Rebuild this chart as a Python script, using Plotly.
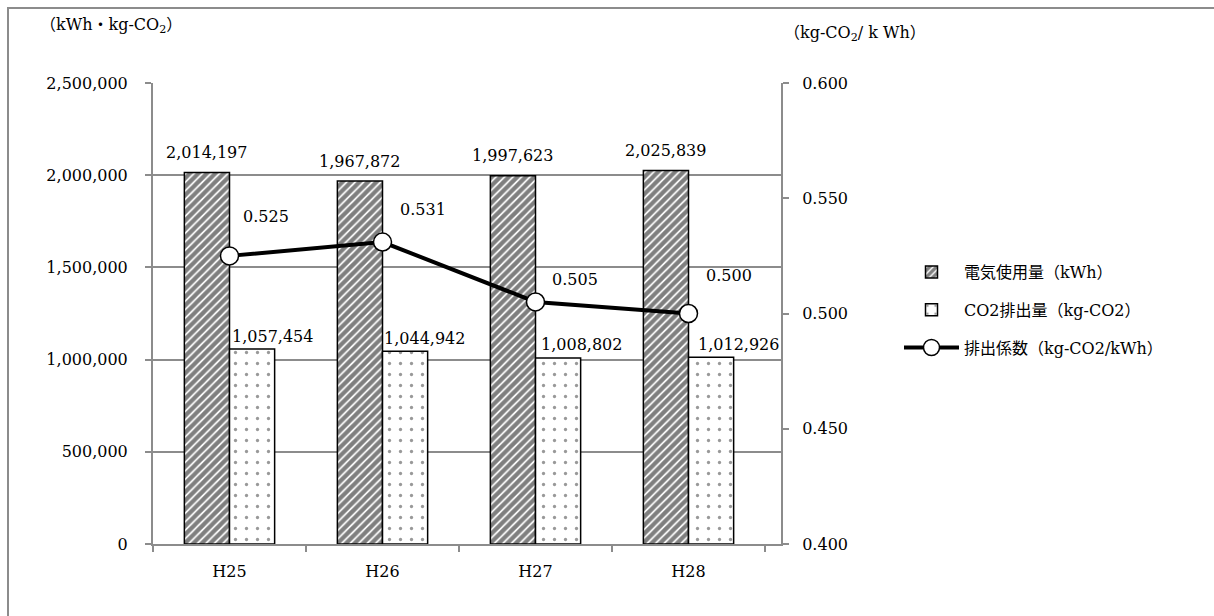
import plotly.graph_objects as go

# Fiscal years and measured values
categories = ["H25", "H26", "H27", "H28"]
electricity_kwh = [2014197, 1967872, 1997623, 2025839]
co2_kg = [1057454, 1044942, 1008802, 1012926]
emission_factor = [0.525, 0.531, 0.505, 0.500]

left_ticks = [0, 500000, 1000000, 1500000, 2000000, 2500000]
right_ticks = [0.400, 0.450, 0.500, 0.550, 0.600]

# Label nudges in pixels (x, y)
co2_label_shift = [(20, 13), (19, 13), (23, 13), (27, 13)]
factor_label_shift = [(36, 39), (40, 33), (39, 22), (40, 38)]

FONT = "DejaVu Serif, Noto Sans CJK JP, serif"
GRID = "#8c8c8c"
W, H = 1214, 616
L, R, T, B = 153, 781, 83, 544

fig = go.Figure()

fig.add_trace(go.Bar(
    x=categories, y=electricity_kwh, name="電気使用量（kWh）",
    marker=dict(color="white", line=dict(color="black", width=1.5),
                pattern=dict(shape="/", fgcolor="black", bgcolor="white",
                             size=6, solidity=0.7)),
    legendgroup="a",
))
fig.add_trace(go.Bar(
    x=categories, y=co2_kg, name="CO2排出量（kg-CO2）",
    marker=dict(color="white", line=dict(color="black", width=1.5),
                pattern=dict(shape=".", fgcolor="#333333", bgcolor="white",
                             size=11, solidity=0.07)),
    legendgroup="b",
))
fig.add_trace(go.Scatter(
    x=categories, y=emission_factor, name="排出係数（kg-CO2/kWh）",
    mode="lines+markers", yaxis="y2",
    line=dict(color="black", width=4),
    marker=dict(size=18, color="white", line=dict(color="black", width=1.5)),
    legendgroup="c",
))

annotations = []
bar_half = 23
for cat, v in zip(categories, electricity_kwh):
    annotations.append(dict(x=cat, y=v, xref="x", yref="y", text=f"{v:,}",
                            showarrow=False, xshift=-bar_half, yshift=20,
                            font=dict(family=FONT, size=16, color="black")))
for cat, v, (dx, dy) in zip(categories, co2_kg, co2_label_shift):
    annotations.append(dict(x=cat, y=v, xref="x", yref="y", text=f"{v:,}",
                            showarrow=False, xshift=bar_half + dx, yshift=dy,
                            font=dict(family=FONT, size=16, color="black")))
for cat, v, (dx, dy) in zip(categories, emission_factor, factor_label_shift):
    annotations.append(dict(x=cat, y=v, xref="x", yref="y2", text=f"{v:.3f}",
                            showarrow=False, xshift=dx, yshift=dy,
                            font=dict(family=FONT, size=16, color="black")))

pw, ph = R - L, B - T
def px(x):
    return (x - L) / pw
def py(y):
    return (B - y) / ph

annotations.append(dict(x=px(38), y=py(26), xref="paper", yref="paper",
                        xanchor="left", yanchor="middle", showarrow=False,
                        text="（kWh・kg-CO<sub>2</sub>）",
                        font=dict(family=FONT, size=16, color="black")))
annotations.append(dict(x=px(782), y=py(34), xref="paper", yref="paper",
                        xanchor="left", yanchor="middle", showarrow=False,
                        text="（kg-CO<sub>2</sub>/ k Wh）",
                        font=dict(family=FONT, size=16, color="black")))

fig.update_layout(
    width=W, height=H,
    margin=dict(l=L, r=W - R, t=T, b=H - B),
    paper_bgcolor="white", plot_bgcolor="white",
    barmode="group", bargap=0.41, bargroupgap=0,
    font=dict(family=FONT, size=16, color="black"),
    showlegend=True,
    legend=dict(x=px(899), y=py(255), xanchor="left", yanchor="top",
                font=dict(family=FONT, size=16, color="black"),
                tracegroupgap=14, itemwidth=55, bgcolor="rgba(0,0,0,0)"),
    xaxis=dict(type="category", showgrid=False, showline=True,
               linecolor=GRID, linewidth=2, ticks="outside",
               tickson="boundaries", ticklen=6, tickcolor=GRID, tickwidth=2,
               ticklabelstandoff=12),
    yaxis=dict(range=[0, 2500000], tickvals=left_ticks,
               ticktext=[f"{t:,}" for t in left_ticks],
               showgrid=True, gridcolor=GRID, gridwidth=1.5,
               showline=True, linecolor=GRID, linewidth=2,
               ticks="outside", ticklen=6, tickcolor=GRID, tickwidth=2,
               ticklabelstandoff=14, zeroline=False),
    yaxis2=dict(range=[0.4, 0.6], tickvals=right_ticks,
                ticktext=[f"{t:.3f}" for t in right_ticks],
                overlaying="y", side="right", showgrid=False,
                showline=True, linecolor=GRID, linewidth=2,
                ticks="outside", ticklen=6, tickcolor=GRID, tickwidth=2,
                ticklabelstandoff=10, zeroline=False),
    annotations=annotations,
    shapes=[dict(type="rect", xref="paper", yref="paper",
                 x0=px(8), x1=px(1230), y0=py(640), y1=py(8),
                 line=dict(color=GRID, width=2), layer="below")],
)

fig.write_html("out.html")
